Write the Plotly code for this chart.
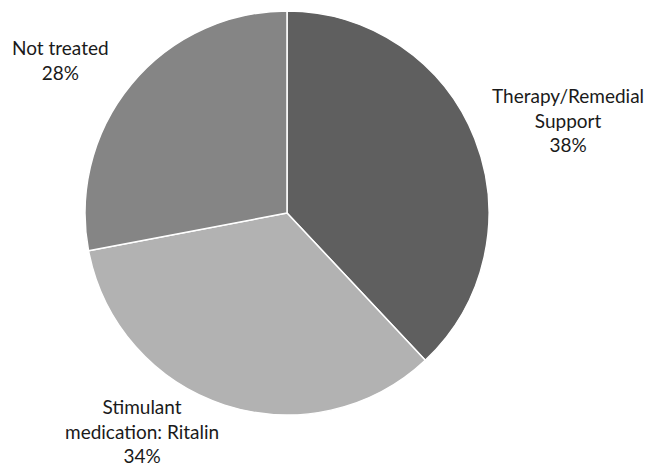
import plotly.graph_objects as go

categories = ["Therapy/Remedial Support", "Stimulant medication: Ritalin", "Not treated"]
values = [38, 34, 28]
label_text = ["Therapy/Remedial<br>Support<br>38%", "Stimulant<br>medication: Ritalin<br>34%", "Not treated<br>28%"]
colors = ["#5f5f5f", "#b2b2b2", "#858585"]

W, H = 651, 468
cx, cy, r = 287, 213, 202

fig = go.Figure(go.Pie(
    labels=categories,
    values=values,
    sort=False,
    direction="clockwise",
    rotation=0,
    marker=dict(colors=colors, line=dict(color="white", width=1.5)),
    textinfo="none",
    hoverinfo="skip",
    showlegend=False,
    domain=dict(x=[(cx - r) / W, (cx + r) / W], y=[(H - cy - r) / H, (H - cy + r) / H]),
))

label_pos = [(568, 120), (142, 431), (60, 60)]
for txt, (x, y) in zip(label_text, label_pos):
    fig.add_annotation(x=x / W, y=1 - y / H, xref="paper", yref="paper", text=txt,
                       showarrow=False, align="center", xanchor="center", yanchor="middle",
                       font=dict(family="Lato", size=19, color="#1a1a1a"))

fig.update_layout(width=W, height=H, margin=dict(l=0, r=0, t=0, b=0),
                  paper_bgcolor="white", plot_bgcolor="white")
fig.write_html("out.html")
